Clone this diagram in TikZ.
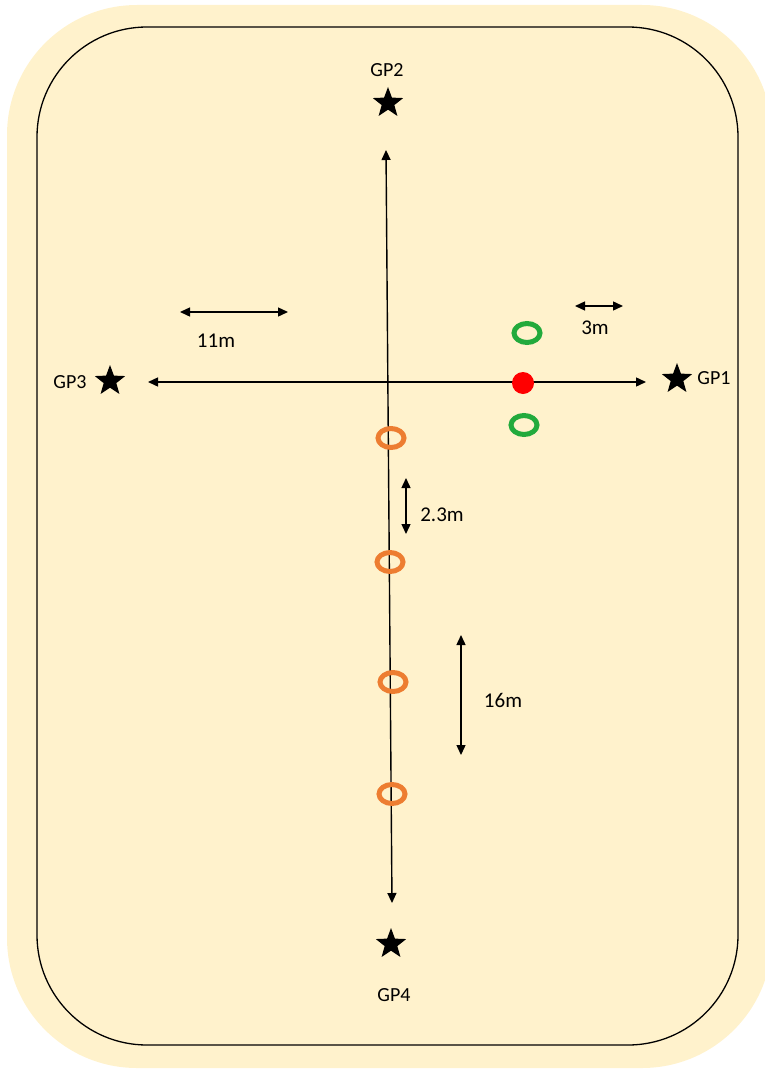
\documentclass[tikz,border=0pt]{standalone}
\usepackage{fontspec}
\setmainfont{Carlito}
\usetikzlibrary{shapes.geometric,arrows.meta}
\definecolor{pad}{HTML}{FFF2CC}
\definecolor{ringorange}{HTML}{ED7D31}
\definecolor{ringgreen}{RGB}{34,170,60}
\begin{document}
\begin{tikzpicture}[x=1pt,y=-1pt,
  goalstar/.style={star,star points=5,star point ratio=2.4,fill=black,draw=none,minimum size=32pt,inner sep=0pt},
  gplabel/.style={font=\fontsize{20}{24}\selectfont,inner sep=0pt},
  measure/.style={font=\fontsize{21}{25}\selectfont,inner sep=0pt},
  dimarrow/.style={line width=1.4pt,{Triangle[length=10pt,width=9pt]}-{Triangle[length=10pt,width=9pt]}},
  ring/.style={ellipse,draw,line width=5pt,minimum width=26pt,minimum height=19pt,inner sep=0pt},
]
\useasboundingbox (0,0) rectangle (764,1070);
% pitch surround and inner boundary
\fill[pad,rounded corners=130pt] (7,5) rectangle (772,1068);
\filldraw[fill=pad,draw=black,line width=1.3pt,rounded corners=110pt] (37,27) rectangle (738,1045);

% goal points
\node[goalstar] (gp1) at (677,379) {};
\node[goalstar] (gp2) at (388,103) {};
\node[goalstar] (gp3) at (110,381) {};
\node[goalstar] (gp4) at (391,944) {};
\node[gplabel] (gp1l) at (714,378) {GP1};
\node[gplabel] (gp2l) at (387,70) {GP2};
\node[gplabel] (gp3l) at (70,382) {GP3};
\node[gplabel] (gp4l) at (394,995) {GP4};

% main axes
\coordinate (vtop) at (386,150);
\coordinate (vbot) at (392,903);
\coordinate (hleft) at (148,382);
\coordinate (hright) at (646,382);
\draw[dimarrow] (vtop) -- (vbot);
\draw[dimarrow] (hleft) -- (hright);

% distance markers
\coordinate (a11l) at (180,312);
\coordinate (a11r) at (288,312);
\draw[dimarrow] (a11l) -- (a11r);
\node[measure] (m11) at (216,341) {11m};

\coordinate (a3l) at (575,306);
\coordinate (a3r) at (623,306);
\draw[dimarrow] (a3l) -- (a3r);
\node[measure] (m3) at (595,328) {3m};

\coordinate (a23t) at (406,478);
\coordinate (a23b) at (406,534);
\draw[dimarrow] (a23t) -- (a23b);
\node[measure] (m23) at (442,515) {2.3m};

\coordinate (a16t) at (461,635);
\coordinate (a16b) at (461,755);
\draw[dimarrow] (a16t) -- (a16b);
\node[measure] (m16) at (503,700) {16m};

% markers
\node[circle,fill=red,minimum size=22pt,inner sep=0pt] (centre) at (523,383) {};
\node[ring,draw=ringgreen] (g1) at (527,333) {};
\node[ring,draw=ringgreen] (g2) at (524,425) {};
\node[ring,draw=ringorange] (o1) at (391,438) {};
\node[ring,draw=ringorange] (o2) at (390,562) {};
\node[ring,draw=ringorange] (o3) at (393,682) {};
\node[ring,draw=ringorange] (o4) at (392,794) {};
\end{tikzpicture}
\end{document}
